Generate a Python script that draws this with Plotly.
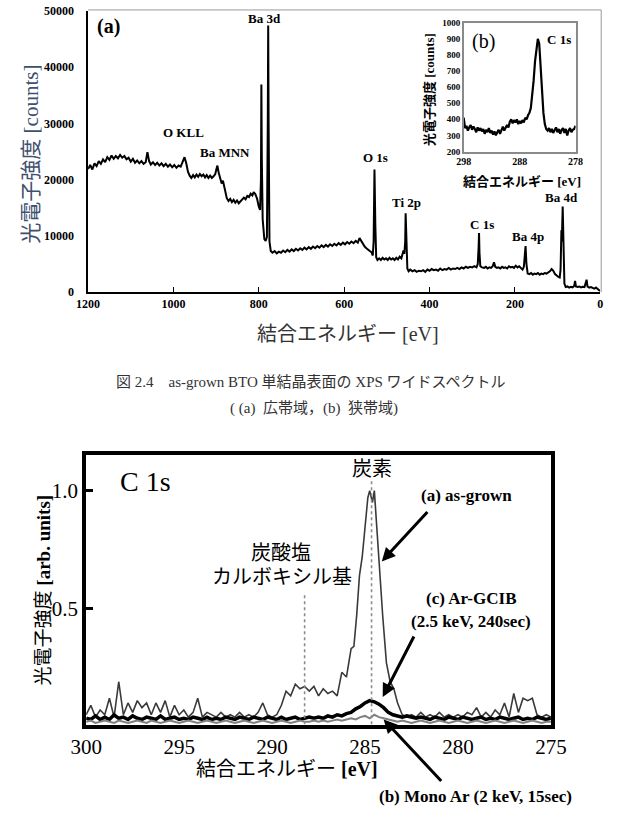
import plotly.graph_objects as go

# ---------------- data: (a) wide XPS spectrum ----------------
wide_be = [1200, 1195, 1190, 1185, 1180, 1175, 1170, 1165, 1160, 1155, 1150, 1145, 1140, 1135, 1130, 1125,
           1120, 1115, 1110, 1105, 1100, 1095, 1090, 1085, 1080, 1075, 1070, 1065, 1061, 1057, 1053, 1048,
           1043, 1038, 1033, 1028, 1023, 1018, 1013, 1008, 1003, 998, 993, 988, 983, 978, 974, 970, 966,
           962, 958, 954, 950, 946, 942, 938, 934, 930, 926, 922, 918, 914, 910, 906, 902, 899, 897, 894,
           890, 887, 884, 881, 878, 875, 871, 867, 863, 859, 855, 851, 847, 843, 839, 835, 831, 827, 823,
           819, 815, 812, 808, 804, 800, 797, 795, 794, 793, 791, 789, 787, 784, 781, 779, 778, 777, 775,
           772, 768, 763, 758, 753, 748, 743, 738, 733, 728, 723, 718, 713, 708, 703, 698, 693, 688, 683,
           678, 673, 668, 663, 658, 653, 648, 643, 638, 633, 628, 623, 618, 613, 608, 603, 598, 593, 588,
           583, 578, 573, 568, 564, 560, 556, 552, 548, 544, 540, 536, 533, 531, 529, 527, 525, 522, 518,
           514, 510, 506, 502, 498, 494, 490, 486, 482, 478, 474, 470, 466, 463, 461, 459, 457, 456, 454,
           452, 449, 445, 440, 435, 430, 425, 420, 415, 410, 405, 400, 395, 390, 385, 380, 375, 370, 365,
           360, 355, 350, 345, 340, 335, 330, 325, 320, 315, 310, 305, 300, 295, 290, 287, 285, 284, 283,
           281, 277, 272, 268, 264, 260, 256, 252, 249, 246, 242, 238, 234, 230, 226, 222, 218, 214, 210,
           206, 202, 198, 194, 190, 186, 182, 179, 177, 175, 173, 170, 166, 162, 158, 154, 150, 146, 142,
           138, 134, 130, 126, 122, 118, 114, 110, 106, 102, 98, 95, 93, 91, 90, 88, 86, 84, 81, 77, 73,
           69, 65, 61, 59, 57, 53, 49, 45, 41, 37, 34, 32, 30, 26, 22, 18, 14, 10, 6, 2, 0]
wide_counts = [21900, 22600, 21800, 22900, 22400, 23300, 22800, 23600, 23100, 24000, 23500, 24300, 23700,
               24200, 23800, 24400, 23900, 24200, 23600, 23900, 23200, 23700, 23000, 23400, 22900, 23300,
               22800, 23100, 24900, 23300, 22700, 23100, 22600, 23000, 22500, 22900, 22400, 22800, 22300,
               22700, 22200, 22600, 22100, 22500, 22300, 23200, 24000, 22900, 21400, 20700, 20300, 20800,
               20400, 20900, 20500, 21000, 20600, 20900, 20400, 20800, 20300, 20700, 20300, 20600, 21000,
               22000, 22500, 21200, 20300, 19300, 19800, 18600, 17300, 16700, 16200, 16600, 16000, 16400,
               15900, 16300, 15800, 16200, 16400, 16800, 16500, 17100, 16900, 17500, 17200, 17800, 17400,
               16600, 15200, 14600, 20000, 36900, 24000, 13000, 10000, 9400, 9100, 9800, 30000, 47400,
               30000, 9000, 7300, 7000, 7300, 6900, 7200, 7000, 7400, 7100, 7500, 7200, 7600, 7300, 7700,
               7400, 7800, 7500, 7900, 7600, 8000, 7700, 8100, 7800, 8200, 7900, 8300, 8000, 8400, 8100,
               8500, 8200, 8600, 8300, 8700, 8400, 8800, 8500, 8900, 8600, 9000, 8700, 9100, 8800, 9600,
               9100, 8400, 8100, 7800, 7500, 7300, 7100, 6500, 9000, 21800, 12000, 6200, 5700, 6000, 5700,
               6100, 5800, 6000, 5700, 6100, 5800, 6000, 5700, 6100, 5800, 6300, 6000, 7000, 7400, 6800,
               9000, 14000, 9000, 4200, 3700, 4000, 3700, 3900, 3600, 3800, 3700, 3900, 3600, 4000, 3800,
               4100, 3900, 4000, 3800, 4200, 3900, 4100, 4000, 4300, 4000, 4200, 4100, 4300, 4100, 4400,
               4200, 4500, 4300, 4500, 4400, 4600, 4400, 5000, 8000, 10500, 7000, 4600, 4400, 4300, 4500,
               4200, 4400, 4300, 4600, 5300, 4500, 4300, 4400, 4200, 4500, 4300, 4400, 4200, 4600, 4400,
               4500, 4300, 4700, 4400, 4600, 4300, 4000, 4500, 6500, 8200, 5000, 3300, 3200, 3400, 3100,
               3300, 3200, 3400, 3100, 3300, 3200, 3400, 3300, 3500, 3700, 4100, 3800, 3200, 2900, 2700,
               2600, 4000, 11000, 9000, 15200, 9000, 1500, 900, 1000, 800, 950, 850, 1100, 2000, 1000, 900,
               1000, 850, 950, 900, 1800, 2200, 1000, 800, 900, 700, 600, 800, 500, 300, 300]

# ---------------- data: (b) inset, narrow C 1s ----------------
inset_be = [298.0, 297.75, 297.5, 297.25, 297.0, 296.75, 296.5, 296.25, 296.0, 295.75, 295.5, 295.25, 295.0,
            294.75, 294.5, 294.25, 294.0, 293.75, 293.5, 293.25, 293.0, 292.75, 292.5, 292.25, 292.0,
            291.75, 291.5, 291.25, 291.0, 290.75, 290.5, 290.25, 290.0, 289.75, 289.5, 289.25, 289.0,
            288.75, 288.5, 288.25, 288.0, 287.75, 287.5, 287.25, 287.0, 286.75, 286.5, 286.25, 286.0,
            285.75, 285.5, 285.25, 285.0, 284.75, 284.5, 284.25, 284.0, 283.75, 283.5, 283.25, 283.0,
            282.75, 282.5, 282.25, 282.0, 281.75, 281.5, 281.25, 281.0, 280.75, 280.5, 280.25, 280.0,
            279.75, 279.5, 279.25, 279.0, 278.75, 278.5, 278.25, 278.0]
inset_counts = [410, 345, 360, 330, 350, 365, 335, 355, 340, 320, 350, 330, 345, 325, 340, 310, 335, 320,
                345, 315, 330, 305, 325, 300, 320, 335, 310, 340, 355, 330, 345, 365, 350, 385, 400, 375,
                395, 380, 400, 370, 390, 375, 395, 380, 410, 400, 425, 440, 470, 540, 640, 760, 850, 900,
                870, 720, 560, 440, 370, 340, 330, 345, 320, 340, 315, 335, 350, 320, 340, 310, 335, 345,
                315, 340, 300, 330, 345, 320, 335, 340, 360]

# ---------------- data: C 1s comparison ----------------
asg_be = [300.0, 299.75, 299.5, 299.25, 299.0, 298.75, 298.5, 298.25, 298.0, 297.75, 297.5, 297.25, 297.0,
          296.75, 296.5, 296.25, 296.0, 295.75, 295.5, 295.25, 295.0, 294.75, 294.5, 294.25, 294.0, 293.75,
          293.5, 293.25, 293.0, 292.75, 292.5, 292.25, 292.0, 291.75, 291.5, 291.25, 291.0, 290.75, 290.5,
          290.25, 290.0, 289.75, 289.5, 289.25, 289.0, 288.75, 288.5, 288.25, 288.0, 287.75, 287.5, 287.25,
          287.0, 286.75, 286.5, 286.25, 286.0, 285.75, 285.6, 285.45, 285.3, 285.15, 285.0, 284.85, 284.75,
          284.6, 284.5, 284.4, 284.25, 284.05, 283.85, 283.65, 283.45, 283.25, 283.0, 282.75, 282.5, 282.25,
          282.0, 281.75, 281.5, 281.25, 281.0, 280.75, 280.5, 280.25, 280.0, 279.75, 279.5, 279.25, 279.0,
          278.75, 278.5, 278.25, 278.0, 277.75, 277.5, 277.25, 277.0, 276.75, 276.5, 276.25, 276.0, 275.75,
          275.5, 275.25, 275.0]
asg_int = [0.05, 0.09, 0.04, 0.07, 0.05, 0.12, 0.04, 0.19, 0.05, 0.10, 0.06, 0.11, 0.08, 0.10, 0.05, 0.10,
           0.06, 0.11, 0.04, 0.09, 0.05, 0.07, 0.04, 0.06, 0.12, 0.04, 0.06, 0.05, 0.04, 0.06, 0.04, 0.05,
           0.04, 0.06, 0.04, 0.05, 0.04, 0.06, 0.10, 0.05, 0.04, 0.05, 0.09, 0.15, 0.13, 0.18, 0.16, 0.17,
           0.15, 0.17, 0.13, 0.16, 0.14, 0.15, 0.13, 0.23, 0.21, 0.33, 0.34, 0.47, 0.64, 0.72, 0.86, 0.97,
           1.0, 0.95, 1.0, 0.88, 0.72, 0.47, 0.27, 0.19, 0.16, 0.10, 0.05, 0.04, 0.05, 0.04, 0.06, 0.04,
           0.05, 0.04, 0.06, 0.04, 0.05, 0.04, 0.05, 0.04, 0.06, 0.05, 0.08, 0.04, 0.06, 0.04, 0.07, 0.05,
           0.10, 0.04, 0.14, 0.06, 0.12, 0.11, 0.12, 0.05, 0.04, 0.05, 0.04]

treat_be = [300.0, 299.75, 299.5, 299.25, 299.0, 298.75, 298.5, 298.25, 298.0, 297.75, 297.5, 297.25,
            297.0, 296.75, 296.5, 296.25, 296.0, 295.75, 295.5, 295.25, 295.0, 294.75, 294.5, 294.25,
            294.0, 293.75, 293.5, 293.25, 293.0, 292.75, 292.5, 292.25, 292.0, 291.75, 291.5, 291.25,
            291.0, 290.75, 290.5, 290.25, 290.0, 289.75, 289.5, 289.25, 289.0, 288.75, 288.5, 288.25,
            288.0, 287.75, 287.5, 287.25, 287.0, 286.75, 286.5, 286.25,
            286.0, 285.75, 285.5, 285.25, 285.0, 284.75, 284.5, 284.25, 284.0, 283.75, 283.5, 283.25,
            283.0, 282.75, 282.5, 282.25, 282.0, 281.75, 281.5, 281.25, 281.0, 280.75, 280.5, 280.25,
            280.0, 279.75, 279.5, 279.25, 279.0, 278.75, 278.5, 278.25, 278.0, 277.75, 277.5, 277.25,
            277.0, 276.75, 276.5, 276.25, 276.0, 275.75, 275.5, 275.25, 275.0]
gcib_int = [0.035, 0.03, 0.045, 0.03, 0.04, 0.03, 0.05, 0.035, 0.04, 0.03, 0.045, 0.035,
            0.03, 0.04, 0.035, 0.03, 0.045, 0.03, 0.035, 0.04, 0.03, 0.035, 0.03, 0.04,
            0.035, 0.03, 0.04, 0.03, 0.035, 0.03, 0.04, 0.035, 0.03, 0.04, 0.035, 0.03,
            0.04, 0.035, 0.03, 0.04, 0.035, 0.03, 0.04, 0.03, 0.035, 0.04, 0.03, 0.035,
            0.04, 0.035, 0.04, 0.035, 0.045, 0.04, 0.05, 0.045,
            0.055, 0.06, 0.075, 0.085, 0.10, 0.11, 0.105, 0.095, 0.08, 0.06, 0.05, 0.045,
            0.04, 0.045, 0.04, 0.035, 0.04, 0.035, 0.03, 0.04, 0.035, 0.03, 0.04, 0.035,
            0.03, 0.04, 0.035, 0.03, 0.035, 0.04, 0.03, 0.035, 0.03, 0.04, 0.035, 0.03,
            0.035, 0.04, 0.03, 0.035, 0.03, 0.04, 0.035, 0.03, 0.035]
mono_int = [0.02, 0.025, 0.015, 0.02, 0.025, 0.02, 0.015, 0.025, 0.02, 0.015, 0.02, 0.025,
            0.02, 0.015, 0.025, 0.02, 0.015, 0.02, 0.025, 0.02, 0.015, 0.02, 0.025, 0.02,
            0.015, 0.02, 0.025, 0.02, 0.015, 0.02, 0.025, 0.02, 0.015, 0.02, 0.025, 0.02,
            0.015, 0.02, 0.025, 0.02, 0.015, 0.02, 0.025, 0.02, 0.015, 0.02, 0.025, 0.02,
            0.02, 0.025, 0.02, 0.025, 0.02, 0.025, 0.03, 0.025,
            0.03, 0.035, 0.03, 0.04, 0.045, 0.035, 0.05, 0.04, 0.035, 0.03, 0.025, 0.02,
            0.025, 0.02, 0.015, 0.02, 0.025, 0.02, 0.015, 0.02, 0.025, 0.02, 0.015, 0.02,
            0.025, 0.02, 0.015, 0.02, 0.025, 0.02, 0.015, 0.02, 0.025, 0.02, 0.015, 0.02,
            0.025, 0.02, 0.015, 0.02, 0.025, 0.02, 0.015, 0.02, 0.02]

wide_ticks = [1200, 1000, 800, 600, 400, 200, 0]
wide_yticks = [0, 10000, 20000, 30000, 40000, 50000]
wide_yticktext = ["0", "10000", "20000", "30000", "40000", "50000"]
inset_xticks = [298, 288, 278]
inset_yticks = [200, 300, 400, 500, 600, 700, 800, 900, 1000]
c1s_xticks = [300, 295, 290, 285, 280, 275]
c1s_yticks = [0.5, 1.0]
c1s_yticktext = ["0.5", "1.0"]
carbon_be = 284.65
carbonate_be = 288.25

W, H = 621, 828
SERIF = "Liberation Serif, 'Noto Sans CJK JP', serif"


def px(x):
    return x / W


def py(y):
    return 1 - y / H


fig = go.Figure()
fig.add_trace(go.Scatter(x=wide_be, y=wide_counts, mode="lines", xaxis="x", yaxis="y",
                         line=dict(color="black", width=2), showlegend=False))
fig.add_trace(go.Scatter(x=inset_be, y=inset_counts, mode="lines", xaxis="x2", yaxis="y2",
                         line=dict(color="black", width=2.2), showlegend=False))
fig.add_trace(go.Scatter(x=asg_be, y=asg_int, mode="lines", xaxis="x3", yaxis="y3",
                         line=dict(color="#3a3a3a", width=1.6), showlegend=False))
fig.add_trace(go.Scatter(x=treat_be, y=gcib_int, mode="lines", xaxis="x3", yaxis="y3",
                         line=dict(color="black", width=3.5), showlegend=False))
fig.add_trace(go.Scatter(x=treat_be, y=mono_int, mode="lines", xaxis="x3", yaxis="y3",
                         line=dict(color="#808080", width=2), showlegend=False))

bold12 = dict(family=SERIF, size=12, color="black", weight="bold")

fig.update_layout(
    width=W, height=H, margin=dict(l=0, r=0, t=0, b=0),
    paper_bgcolor="white", plot_bgcolor="white", showlegend=False,
    xaxis=dict(domain=[px(76), px(616)], range=[1200, 0], anchor="y", tickvals=wide_ticks,
               ticktext=[str(v) for v in wide_ticks],
               ticks="inside", ticklen=5, tickcolor="black", showline=True, linecolor="black",
               linewidth=1.5, showgrid=False, zeroline=False, tickfont=bold12),
    yaxis=dict(domain=[py(290), py(4)], range=[0, 50000], anchor="x", tickvals=wide_yticks,
               ticktext=wide_yticktext,
               ticks="", showline=True, linecolor="black", linewidth=1.5, showgrid=False,
               zeroline=False, tickfont=bold12, ticklabelstandoff=10),
    xaxis2=dict(domain=[px(472), px(590)], range=[298, 278], anchor="y2", tickvals=inset_xticks,
                ticktext=[str(v) for v in inset_xticks],
                ticks="", showline=True, mirror=True, linecolor="#8a8a8a", linewidth=1.5,
                showgrid=False, zeroline=False,
                tickfont=dict(family=SERIF, size=10, color="black", weight="bold")),
    yaxis2=dict(domain=[py(147), py(16)], range=[200, 1000], anchor="x2", tickvals=inset_yticks,
                ticktext=[str(v) for v in inset_yticks],
                ticks="", showline=True, mirror=True, linecolor="#8a8a8a", linewidth=1.5,
                showgrid=False, zeroline=False,
                tickfont=dict(family=SERIF, size=9, color="black", weight="bold")),
    xaxis3=dict(domain=[px(74), px(564)], range=[300, 275], anchor="y3", tickvals=c1s_xticks,
                ticktext=[str(v) for v in c1s_xticks],
                ticks="", showline=True, mirror=True, linecolor="black", linewidth=4,
                showgrid=False, zeroline=False,
                tickfont=dict(family=SERIF, size=21, color="black")),
    yaxis3=dict(domain=[py(730), py(456)], range=[0.008, 1.15], anchor="x3", tickvals=c1s_yticks,
                ticktext=c1s_yticktext, ticks="inside", ticklen=7, tickwidth=3, tickcolor="black",
                showline=True, mirror=True, linecolor="black", linewidth=4, showgrid=False,
                zeroline=False, tickfont=dict(family=SERIF, size=21, color="black")),
)

# light frame (top / right) of the wide-spectrum plot area
fig.add_shape(type="line", xref="paper", yref="paper", x0=px(76), x1=px(617), y0=py(3), y1=py(3),
              line=dict(color="#9a9a9a", width=1))
fig.add_shape(type="line", xref="paper", yref="paper", x0=px(617), x1=px(617), y0=py(3), y1=py(290),
              line=dict(color="#9a9a9a", width=1))

# dotted reference lines on the C 1s chart
fig.add_shape(type="line", xref="x3", yref="y3", x0=carbon_be, x1=carbon_be, y0=0.01, y1=1.04,
              line=dict(color="#8c8c8c", width=1.6, dash="dot"))
fig.add_shape(type="line", xref="x3", yref="y3", x0=carbonate_be, x1=carbonate_be, y0=0.01, y1=0.56,
              line=dict(color="#8c8c8c", width=1.6, dash="dot"))


def ann(x, y, text, size, bold=False, color="black", angle=0):
    fig.add_annotation(x=px(x), y=py(y), xref="paper", yref="paper", text=text, showarrow=False,
                       xanchor="center", yanchor="middle", textangle=angle,
                       font=dict(family=SERIF, size=size, color=color,
                                 weight="bold" if bold else "normal"))


# wide spectrum labels
ann(97, 20, "(a)", 20, True)
ann(262, 12, "Ba 3d", 13, True)
ann(177, 128, "O KLL", 13, True)
ann(220, 148, "Ba MNN", 13, True)
ann(379, 153, "O 1s", 13, True)
ann(412, 199, "Ti 2p", 13, True)
ann(491, 221, "C 1s", 13, True)
ann(540, 233, "Ba 4p", 13, True)
ann(575, 194, "Ba 4d", 13, True)
ann(350, 333, "結合エネルギー [eV]", 20, False, "#333333")
ann(16, 150, "光電子強度 [counts]", 21, False, "#40506e", -90)

# inset labels
ann(493, 35, "(b)", 20)
ann(573, 33, "C 1s", 13, True)
ann(533, 178, "結合エネルギー [eV]", 13, True)
ann(436, 84, "光電子強度 [counts]", 13, True, "black", -90)

# caption
ann(311, 381, "図 2.4　as-grown BTO 単結晶表面の XPS ワイドスペクトル", 15, False, "#333333")
ann(314, 408, "( (a)  広帯域，(b)  狭帯域)", 15, False, "#333333")

# C 1s chart labels
ann(137, 483, "C 1s", 28)
ann(375, 470, "炭素", 20)
ann(279, 555, "炭酸塩", 20)
ann(280, 580, "カルボキシル基", 20)
ann(475, 497, "(a) as-grown", 17, True)
ann(480, 602, "(c) Ar-GCIB", 17, True)
ann(480, 625, "(2.5 keV, 240sec)", 17, True)
ann(484, 803, "(b) Mono Ar (2 keV, 15sec)", 17, True)
ann(286, 775, "結合エネルギー <b>[eV]</b>", 20)
ann(30, 593, "光電子強度 <b>[arb. units]</b>", 19, False, "black", -90)

# arrows
for hx, hy, axp, ayp in [(284.1, 0.70, 47, -51), (284.05, 0.125, 32, -62), (284.0, 0.03, 59, 63)]:
    fig.add_annotation(x=hx, y=hy, xref="x3", yref="y3", text="", showarrow=True, arrowhead=2,
                       arrowsize=0.9, arrowwidth=3, arrowcolor="black", ax=axp, ay=ayp)

fig.write_html("out.html")
